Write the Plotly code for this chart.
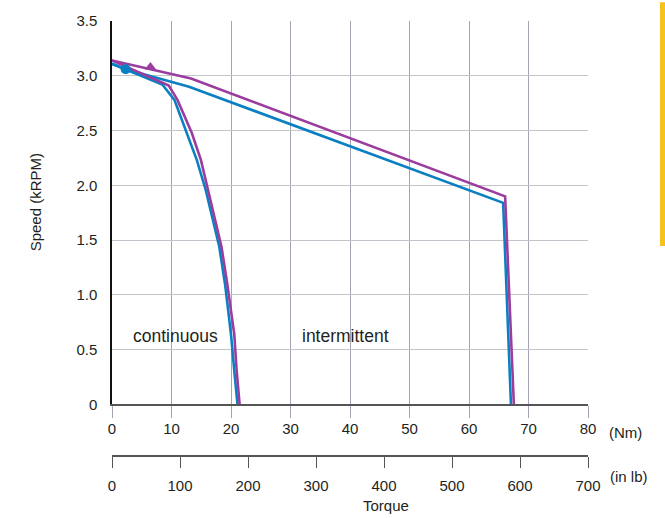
import plotly.graph_objects as go

# ---- data (torque in Nm, speed in kRPM) ----
cont_blue_torque = [0, 2.3, 8.46, 10.49, 12.62, 14.26, 15.74, 17.05, 18.03, 19.02, 20.0, 20.55, 21.09]
cont_blue_speed = [3.11, 3.06, 2.92, 2.78, 2.48, 2.23, 1.96, 1.66, 1.44, 1.09, 0.64, 0.31, 0.0]

cont_purple_torque = [0, 9.54, 11.0, 12.2, 13.4, 14.95, 16.1, 17.4, 18.4, 19.4, 20.55, 20.95, 21.45]
cont_purple_speed = [3.14, 2.91, 2.78, 2.63, 2.48, 2.23, 1.96, 1.66, 1.44, 1.09, 0.64, 0.31, 0.0]

int_blue_torque = [0, 2.3, 12.95, 65.74, 67.05]
int_blue_speed = [3.11, 3.06, 2.90, 1.84, 0.0]

int_purple_torque = [0, 6.46, 13.28, 66.07, 67.54]
int_purple_speed = [3.14, 3.06, 2.975, 1.90, 0.0]

blue_marker_torque = [2.3]
blue_marker_speed = [3.06]
purple_marker_torque = [6.46]
purple_marker_speed = [3.08]

nm_ticks = [0, 10, 20, 30, 40, 50, 60, 70, 80]
inlb_ticks = [0, 100, 200, 300, 400, 500, 600, 700]
speed_ticks = [0, 0.5, 1.0, 1.5, 2.0, 2.5, 3.0, 3.5]
speed_labels = ["0", "0.5", "1.0", "1.5", "2.0", "2.5", "3.0", "3.5"]

BLUE = "#0a80c2"
PURPLE = "#9a3d9f"
FONT = "Liberation Sans, Arial, Helvetica, sans-serif"
TXT = "#231f20"

fig = go.Figure()

def line(x, y, c):
    fig.add_trace(go.Scatter(x=x, y=y, mode="lines", line=dict(color=c, width=2.6),
                             showlegend=False, hoverinfo="skip"))

line(int_blue_torque, int_blue_speed, BLUE)
line(cont_blue_torque, cont_blue_speed, BLUE)
line(int_purple_torque, int_purple_speed, PURPLE)
line(cont_purple_torque, cont_purple_speed, PURPLE)

fig.add_trace(go.Scatter(x=blue_marker_torque, y=blue_marker_speed, mode="markers",
                         marker=dict(symbol="circle", size=10, color=BLUE), showlegend=False))
fig.add_trace(go.Scatter(x=purple_marker_torque, y=purple_marker_speed, mode="markers",
                         marker=dict(symbol="triangle-up", size=10, color=PURPLE), showlegend=False))

# dummy trace so the in-lb axis is drawn
fig.add_trace(go.Scatter(x=[0, 700], y=[None, None], xaxis="x2", yaxis="y", mode="lines",
                         showlegend=False, hoverinfo="skip"))

W, H = 665, 518
L, T, B = 112, 17, 518 - 456
R = 665 - 588
H_PAPER = H - T - B
ydom0 = 52 / H_PAPER

fig.update_layout(
    width=W, height=H,
    margin=dict(l=L, r=R, t=T, b=B),
    paper_bgcolor="white", plot_bgcolor="white",
    font=dict(family=FONT, size=15, color=TXT),
    xaxis=dict(range=[0, 80], tickvals=nm_ticks, showgrid=True, gridcolor="#a3a4b4", gridwidth=1.2,
               ticks="outside", ticklen=12, tickcolor="#a3a4b4", tickwidth=1.2,
               showline=True, linecolor="#555555", linewidth=1.5, zeroline=False,
               anchor="y", domain=[0, 1], ticklabelstandoff=-2, fixedrange=True),
    xaxis2=dict(range=[0, 700], tickvals=inlb_ticks, showgrid=False, overlaying="x",
                anchor="free", position=0, side="bottom",
                ticks="outside", ticklen=11, tickcolor="#555555", tickwidth=1.2,
                showline=True, linecolor="#555555", linewidth=1.5, zeroline=False,
                ticklabelstandoff=5, fixedrange=True),
    yaxis=dict(range=[0, 3.5], tickvals=speed_ticks, ticktext=speed_labels, domain=[ydom0, 1],
               showgrid=True, gridcolor="#c3c4cc", gridwidth=1.2,
               ticks="outside", ticklen=10, tickcolor="rgba(0,0,0,0)",
               showline=True, linecolor="#111111", linewidth=1.5, zeroline=False,
               anchor="x", fixedrange=True),
)

def px_x(px):
    return (px - L) / 476.0

def px_y(py):
    return (456 - py) / H_PAPER

ann = [
    dict(text="continuous", x=px_x(131), y=px_y(335), xanchor="left", yanchor="middle", font=dict(size=17.5)),
    dict(text="intermittent", x=px_x(300), y=px_y(335), xanchor="left", yanchor="middle", font=dict(size=17.5)),
    dict(text="(Nm)", x=px_x(625), y=px_y(432), xanchor="center", yanchor="middle", font=dict(size=15)),
    dict(text="(in lb)", x=px_x(629), y=px_y(477), xanchor="center", yanchor="middle", font=dict(size=15)),
    dict(text="Torque", x=px_x(386), y=px_y(506), xanchor="center", yanchor="middle", font=dict(size=15)),
    dict(text="Speed (kRPM)", x=px_x(35), y=px_y(200), xanchor="center", yanchor="middle",
         textangle=-90, font=dict(size=15)),
]
for a in ann:
    a.update(xref="paper", yref="paper", showarrow=False)
fig.update_layout(annotations=ann)

fig.add_shape(type="rect", xref="paper", yref="paper",
              x0=px_x(660), x1=px_x(666), y0=px_y(244), y1=px_y(-2),
              fillcolor="#f8c21c", line=dict(width=0))

fig.write_html(
    "out.html",
    config={"displayModeBar": False},
    post_script="document.body.style.margin='0';document.body.style.overflow='hidden';",
)
